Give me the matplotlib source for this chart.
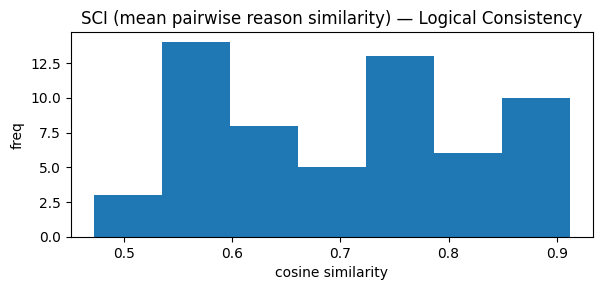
import numpy as np
import matplotlib.pyplot as plt

# histogram counts
counts = [3, 14, 8, 5, 13, 6, 10]
lo, hi = 0.4729, 0.9117
edges = np.linspace(lo, hi, len(counts) + 1)

fig, ax = plt.subplots(figsize=(6.03, 2.9), dpi=100)
ax.hist(edges[:-1], bins=edges, weights=counts, color='#1f77b4')
ax.set_title("SCI (mean pairwise reason similarity) — Logical Consistency")
ax.set_xlabel("cosine similarity")
ax.set_ylabel("freq")
fig.subplots_adjust(left=0.117, right=0.984, bottom=0.183, top=0.888)
fig.savefig("out.png", dpi=100)
